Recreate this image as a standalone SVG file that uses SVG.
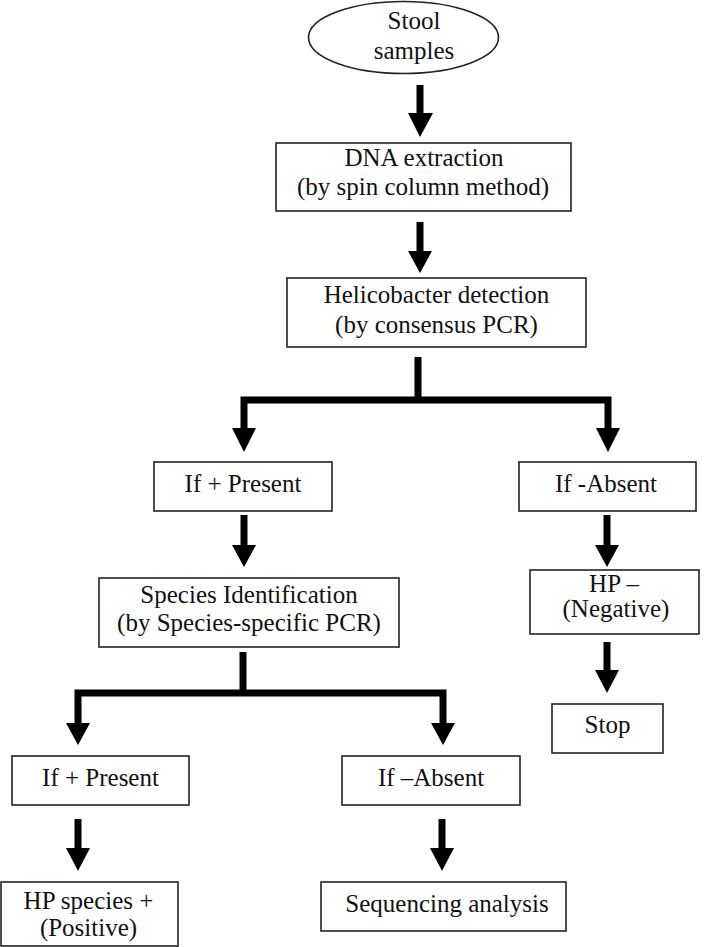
<svg xmlns="http://www.w3.org/2000/svg" width="708" height="947" viewBox="0 0 708 947">
<style>
.box{fill:#fff;stroke:#222;stroke-width:1.6}
.t{font-family:"Liberation Serif","Times New Roman",serif;font-size:25px;fill:#111;text-anchor:middle}
.ln{fill:none;stroke:#000;stroke-width:7;stroke-linejoin:miter;stroke-linecap:butt}
.hd{fill:#000}
</style>
<rect width="708" height="947" fill="#fff"/>
<g id="connectors">
<path class="ln" d="M420 85V114"/>
<polygon class="hd" points="408,113 433,113 420,137"/>
<path class="ln" d="M420 222V252"/>
<polygon class="hd" points="408,251 432,251 420,273"/>
<path class="ln" d="M418 357V400M244 429V400H608V429"/>
<polygon class="hd" points="232,428 256,428 244,452"/>
<polygon class="hd" points="596,428 620,428 608,452"/>
<path class="ln" d="M244 515V546"/>
<polygon class="hd" points="232,545 256,545 244,567"/>
<path class="ln" d="M607 515V546"/>
<polygon class="hd" points="595,545 619,545 607,567"/>
<path class="ln" d="M607 642V671"/>
<polygon class="hd" points="595,670 619,670 607,693"/>
<path class="ln" d="M243 652V693M78 724V693H443V724"/>
<polygon class="hd" points="66,723 90,723 78,745"/>
<polygon class="hd" points="431,723 455,723 443,745"/>
<path class="ln" d="M78 819V849"/>
<polygon class="hd" points="66,848 90,848 78,871"/>
<path class="ln" d="M442 819V849"/>
<polygon class="hd" points="430,848 454,848 442,871"/>
</g>
<g id="stool">
<ellipse class="box" cx="403.5" cy="37.5" rx="95" ry="36"/>
<text class="t" x="414" y="29">Stool</text>
<text class="t" x="414" y="59">samples</text>
</g>
<g id="dna">
<rect class="box" x="276" y="143" width="295" height="68"/>
<text class="t" x="424" y="166">DNA extraction</text>
<text class="t" x="423" y="195">(by spin column method)</text>
</g>
<g id="helico">
<rect class="box" x="287" y="278" width="299" height="69"/>
<text class="t" x="436.5" y="303">Helicobacter detection</text>
<text class="t" x="436.5" y="333">(by consensus PCR)</text>
</g>
<g id="present1">
<rect class="box" x="154" y="462" width="178" height="49"/>
<text class="t" x="243" y="492">If + Present</text>
</g>
<g id="absent1">
<rect class="box" x="519" y="462" width="177" height="49"/>
<text class="t" x="606" y="492">If -Absent</text>
</g>
<g id="species">
<rect class="box" x="99" y="578" width="300" height="69"/>
<text class="t" x="249" y="603">Species Identification</text>
<text class="t" x="249" y="631">(by Species-specific PCR)</text>
</g>
<g id="hpneg">
<rect class="box" x="530" y="570" width="169" height="64"/>
<text class="t" x="614" y="592">HP –</text>
<text class="t" x="616" y="617">(Negative)</text>
</g>
<g id="stop">
<rect class="box" x="552" y="704" width="111" height="49"/>
<text class="t" x="607.5" y="733">Stop</text>
</g>
<g id="present2">
<rect class="box" x="12" y="756" width="177" height="49"/>
<text class="t" x="100.5" y="786">If + Present</text>
</g>
<g id="absent2">
<rect class="box" x="342" y="756" width="178" height="49"/>
<text class="t" x="431" y="786">If –Absent</text>
</g>
<g id="hppos">
<rect class="box" x="1" y="882" width="177" height="64"/>
<text class="t" x="88.5" y="909">HP species +</text>
<text class="t" x="88.5" y="936">(Positive)</text>
</g>
<g id="seq">
<rect class="box" x="321" y="882" width="245" height="49"/>
<text class="t" x="447" y="912">Sequencing analysis</text>
</g>
</svg>
